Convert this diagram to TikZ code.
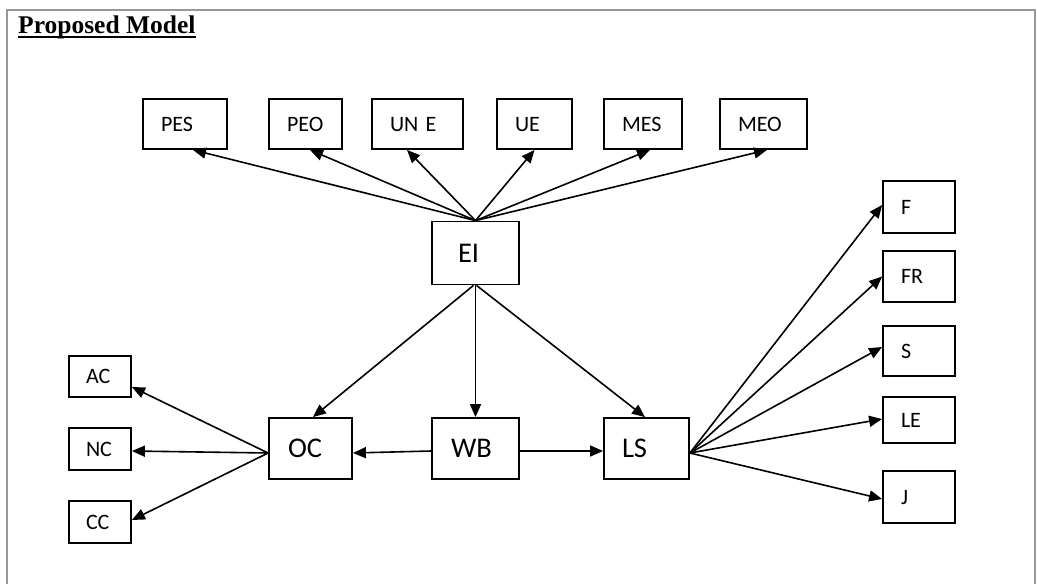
\documentclass[tikz,border=0pt]{standalone}
\usepackage{fontspec}
\setmainfont{Carlito}
\newfontfamily\titlefont{Liberation Serif}
\usetikzlibrary{arrows.meta,calc}
\tikzset{
  box/.style={draw=black, line width=1.8pt, inner ysep=0pt, align=left, text height=14pt, text depth=0pt, font=\fontsize{22}{25}\selectfont},
  sbox/.style 2 args={box, minimum width=#1pt, minimum height=#2pt, inner xsep=18pt, text width=#1pt-36pt},
  bbox/.style 2 args={draw=black, line width=1.8pt, inner ysep=0pt, align=left, text height=18pt, text depth=0pt, font=\fontsize{28.5}{32}\selectfont, minimum width=#1pt, minimum height=#2pt},
  arr/.style={-{Triangle[length=13pt,width=11pt]}, line width=1.6pt, black},
  frame/.style={draw=black!40, line width=1.5pt}
}
\begin{document}
\begin{tikzpicture}[x=1pt,y=-1pt]
\useasboundingbox (0,0) rectangle (1037,584);
\draw[frame] (7,584) -- (7,10) -- (1035,10) -- (1035,584);
\node[anchor=base west, inner sep=0pt, font=\titlefont\bfseries\fontsize{25.5}{28}\selectfont] (title) at (18,33) {Proposed Model};
\draw[line width=2pt] ($(title.base west)+(0,4)$) -- ($(title.base east)+(0,4)$);

% top row
\node[sbox={84}{50}] (pes) at (185,124) {PES};
\node[sbox={73}{50}] (peo) at (305.5,124) {PEO};
\node[sbox={91}{50}] (une) at (417.5,124) {UN E};
\node[sbox={75}{50}] (ue) at (534.5,124) {UE};
\node[sbox={78}{50}] (mes) at (643,124) {MES};
\node[sbox={87}{50}] (meo) at (763.5,124) {MEO};

% center
\node[bbox={87}{63}, inner xsep=26pt, text width=35pt] (ei) at (475.5,253) {EI};
\node[bbox={83}{61}, inner xsep=19pt, text width=45pt] (oc) at (310.5,448.5) {OC};
\node[bbox={87}{61}, inner xsep=19pt, text width=49pt] (wb) at (475.5,448.5) {WB};
\node[bbox={85}{61}, inner xsep=18pt, text width=49pt] (ls) at (646.5,448.5) {LS};

% left column
\node[sbox={62}{41}, inner xsep=17pt, text width=28pt] (ac) at (100,376.5) {AC};
\node[sbox={62}{42}, inner xsep=17pt, text width=28pt] (nc) at (100,449) {NC};
\node[sbox={62}{42}, inner xsep=17pt, text width=28pt] (cc) at (100,522) {CC};

% right column
\node[sbox={72}{52}] (f) at (919,207) {F};
\node[sbox={72}{51}] (fr) at (919,276.5) {FR};
\node[sbox={72}{50}] (s) at (919,351) {S};
\node[sbox={72}{46}] (le) at (919,420) {LE};
\node[sbox={72}{52}] (j) at (919,497) {J};

% EI to top row
\draw[arr] (ei.north) -- ($(pes.south)+(8,0)$);
\draw[arr] (ei.north) -- ($(peo.south)+(4.5,0)$);
\draw[arr] (ei.north) -- ($(une.south)+(-10.5,0)$);
\draw[arr] (ei.north) -- (ue.south);
\draw[arr] (ei.north) -- ($(mes.south)+(7,0)$);
\draw[arr] (ei.north) -- ($(meo.south)+(3.5,0)$);

% EI down
\draw[arr] ($(ei.south)+(-2,0)$) -- ($(oc.north)+(2.5,0)$);
\draw[arr] (ei.south) -- (wb.north);
\draw[arr] ($(ei.south)+(1,0)$) -- ($(ls.north)+(-1.5,0)$);

% WB horizontal
\draw[arr] ($(wb.west)+(0,2.5)$) -- ($(oc.east)+(0,4.5)$);
\draw[arr] ($(wb.east)+(0,2.5)$) -- ($(ls.west)+(0,2.5)$);

% OC to left
\draw[arr] ($(oc.west)+(0,4.5)$) -- ($(ac.east)+(0,10.5)$);
\draw[arr] ($(oc.west)+(0,4.5)$) -- ($(nc.east)+(0,2)$);
\draw[arr] ($(oc.west)+(0,4.5)$) -- ($(cc.east)+(0,-2)$);

% LS to right
\draw[arr] ($(ls.east)+(0,4.5)$) -- ($(f.west)+(0,-2)$);
\draw[arr] ($(ls.east)+(0,4.5)$) -- (fr.west);
\draw[arr] ($(ls.east)+(0,4.5)$) -- ($(s.west)+(0,-4)$);
\draw[arr] ($(ls.east)+(0,4.5)$) -- ($(le.west)+(0,-1)$);
\draw[arr] ($(ls.east)+(0,4.5)$) -- ($(j.west)+(0,2)$);
\end{tikzpicture}
\end{document}
